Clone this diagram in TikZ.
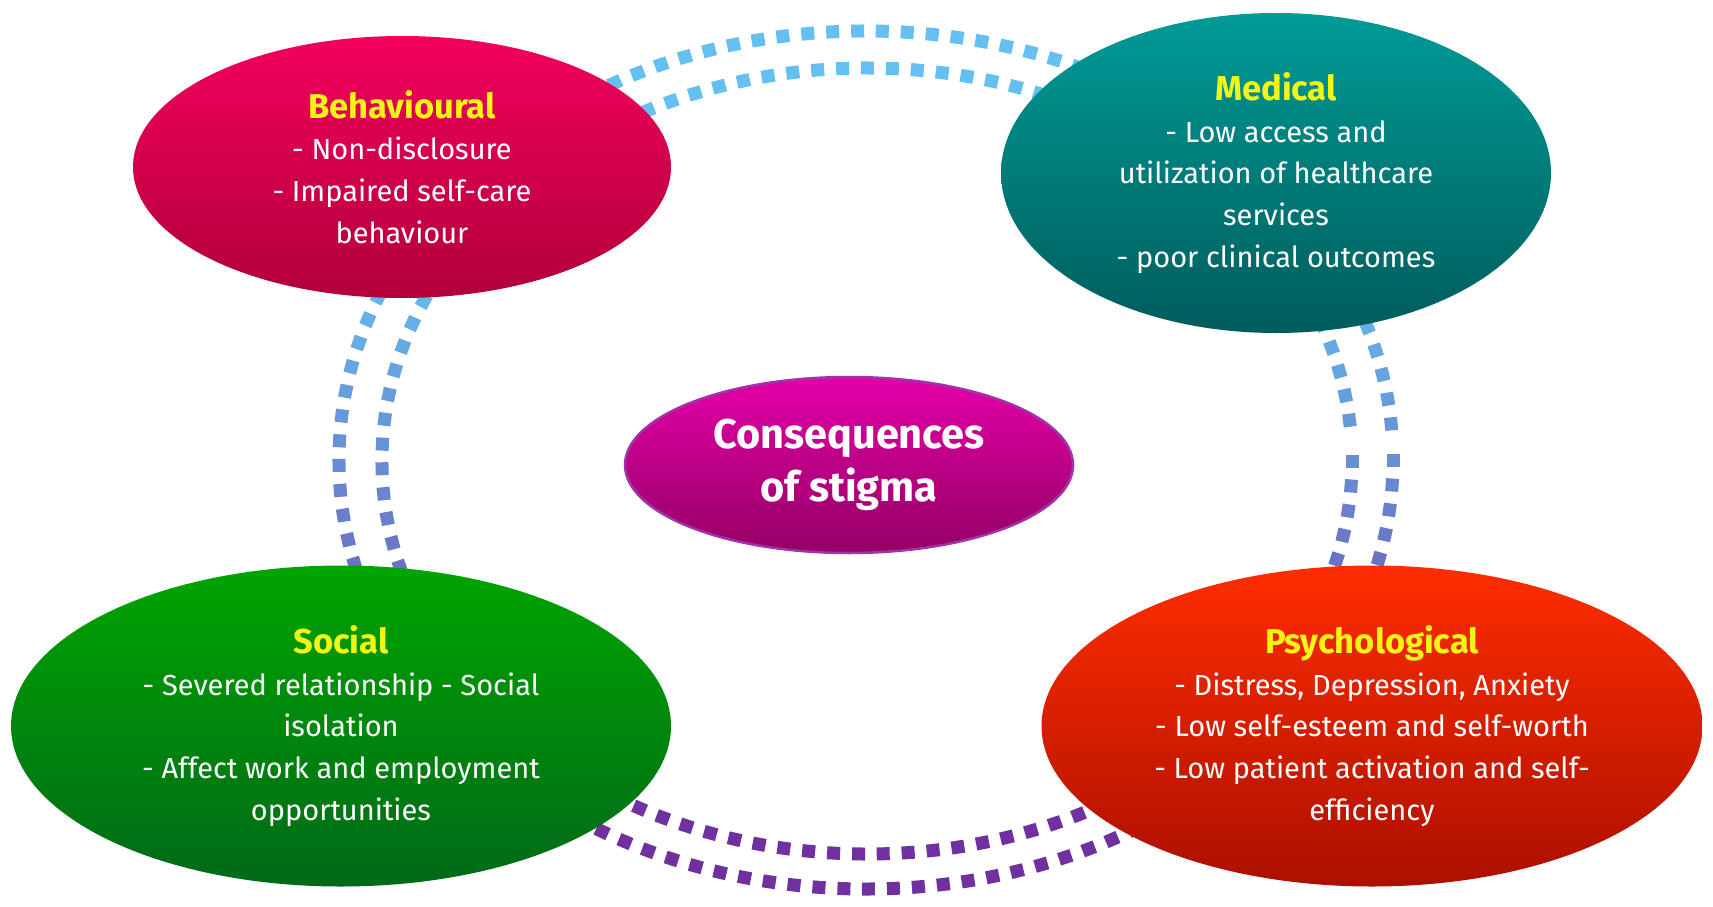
\documentclass[tikz,border=0pt]{standalone}
\usepackage{fontspec}
\setmainfont{Fira Sans}
\usetikzlibrary{shapes.geometric,decorations.markings}
\definecolor{ringblue}{RGB}{100,192,240}
\definecolor{ringpurple}{RGB}{112,48,160}
\definecolor{titleyellow}{RGB}{245,245,20}
\definecolor{behtop}{RGB}{242,0,92}
\definecolor{behbot}{RGB}{178,0,60}
\definecolor{medtop}{RGB}{0,155,150}
\definecolor{medbot}{RGB}{0,92,92}
\definecolor{soctop}{RGB}{0,165,0}
\definecolor{socbot}{RGB}{0,105,25}
\definecolor{psytop}{RGB}{255,45,0}
\definecolor{psybot}{RGB}{172,15,0}
\definecolor{centop}{RGB}{228,0,168}
\definecolor{cenbot}{RGB}{148,0,100}
\definecolor{cenborder}{RGB}{160,50,170}
\tikzset{
  ringdots/.style={decoration={markings,
      mark=between positions 0 and 0.99 step 25pt with {%
        \pgfgettransformentries{\ta}{\tb}{\tc}{\td}{\tx}{\ty}%
        \pgfmathtruncatemacro{\mixp}{max(0,min(100,(-(\ty)-260)/5.6))}%
        \fill[ringpurple!\mixp!ringblue] (-6.5pt,-6.5pt) rectangle (6.5pt,6.5pt);}},
    decorate},
  blob/.style={ellipse, inner sep=0pt, align=center, text=white,
    font=\fontsize{29}{41.8}\selectfont},
}
\newcommand{\blobtitle}[1]{{\color{titleyellow}\bfseries\fontsize{34.5}{41.8}\selectfont #1}}
\begin{document}
\begin{tikzpicture}[x=1pt,y=-1pt]
\useasboundingbox[fill=white] (0,0) rectangle (1713,907);
% dotted rings
\path[ringdots] (866,460) ellipse [x radius=527, y radius=429];
\path[ringdots] (867,461) ellipse [x radius=485, y radius=393];
% ellipses
\node[blob, minimum width=538pt, minimum height=262pt, top color=behtop, bottom color=behbot] (beh) at (402,167)
  {\blobtitle{Behavioural}\\- Non-disclosure\\- Impaired self-care\\behaviour};
\node[blob, minimum width=550pt, minimum height=320pt, top color=medtop, bottom color=medbot] (med) at (1276,173)
  {\blobtitle{Medical}\\- Low access and\\utilization of healthcare\\services\\- poor clinical outcomes};
\node[blob, minimum width=660pt, minimum height=321pt, top color=soctop, bottom color=socbot] (soc) at (341,726)
  {\blobtitle{Social}\\- Severed relationship - Social\\isolation\\- Affect work and employment\\opportunities};
\node[blob, minimum width=661pt, minimum height=321pt, top color=psytop, bottom color=psybot] (psy) at (1372,726)
  {\blobtitle{Psychological}\\- Distress, Depression, Anxiety\\- Low self-esteem and self-worth\\- Low patient activation and self-\\efficiency};
\node[blob, minimum width=448pt, minimum height=176pt, top color=centop, bottom color=cenbot, draw=cenborder, line width=2.5pt,
  font=\bfseries\fontsize{41.5}{53}\selectfont] (cen) at (849,465)
  {Consequences\\of stigma};
\end{tikzpicture}
\end{document}
